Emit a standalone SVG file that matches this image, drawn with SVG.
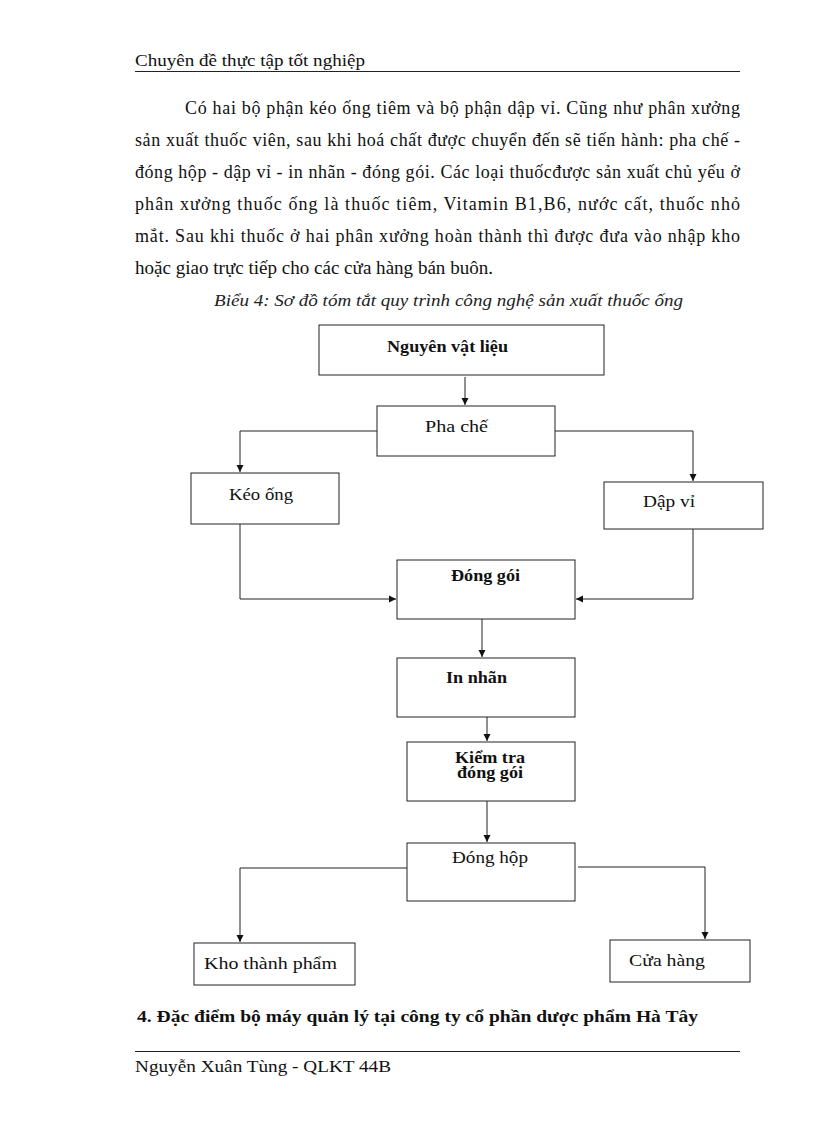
<svg xmlns="http://www.w3.org/2000/svg" width="816" height="1123" viewBox="0 0 816 1123">
<defs>
<marker id="arr" markerUnits="userSpaceOnUse" markerWidth="8" markerHeight="8" refX="7" refY="4" orient="auto">
<path d="M0,0.5 L7,4 L0,7.5 z" fill="#111"/>
</marker>
<style>
.pg{font-family:"Liberation Serif","Times New Roman",serif;font-size:18px;fill:#111}
.hd{font-family:"Liberation Serif","Times New Roman",serif;font-size:17.5px;fill:#111}
.cap{font-family:"Liberation Serif","Times New Roman",serif;font-size:16px;font-style:italic;fill:#222}
.bx{fill:#fff;stroke:#222;stroke-width:1}
.lb{font-family:"Liberation Serif","Times New Roman",serif;font-size:16px;fill:#111}
.bd{font-weight:bold}
.cn{fill:none;stroke:#222;stroke-width:1}
.rule{stroke:#222;stroke-width:1}
</style>
</defs>
<rect width="816" height="1123" fill="#fff"/>

<g id="header">
<text class="hd" x="135" y="66" textLength="230" lengthAdjust="spacingAndGlyphs">Chuyên đề thực tập tốt nghiệp</text>
<line class="rule" x1="135" y1="71.5" x2="740" y2="71.5"/>
</g>

<g id="paragraph">
<text class="pg" x="185" y="114" textLength="555" lengthAdjust="spacing">Có hai bộ phận kéo ống tiêm và bộ phận dập vỉ. Cũng như phân xưởng</text>
<text class="pg" x="135" y="146" textLength="605" lengthAdjust="spacing">sản xuất thuốc viên, sau khi hoá chất được chuyển đến sẽ tiến hành: pha chế -</text>
<text class="pg" x="135" y="178" textLength="605" lengthAdjust="spacing">đóng hộp - dập vỉ - in nhãn - đóng gói. Các loại thuốcđược sản xuất chủ yếu ở</text>
<text class="pg" x="135" y="210" textLength="605" lengthAdjust="spacing">phân xưởng thuốc ống là thuốc tiêm, Vitamin  B1,B6, nước cất, thuốc nhỏ</text>
<text class="pg" x="135" y="242" textLength="605" lengthAdjust="spacing">mắt. Sau khi thuốc ở hai phân xưởng hoàn thành thì được đưa vào nhập kho</text>
<text class="pg" x="135" y="274" textLength="358" lengthAdjust="spacingAndGlyphs">hoặc giao trực tiếp cho các cửa hàng bán buôn.</text>
<text class="cap" x="214" y="306" textLength="469" lengthAdjust="spacingAndGlyphs">Biểu 4: Sơ đồ tóm tắt quy trình công nghệ sản xuất thuốc ống</text>
</g>

<g id="connectors">
<path class="cn" d="M465,377 V405" marker-end="url(#arr)"/>
<path class="cn" d="M377,431 H240 V472" marker-end="url(#arr)"/>
<path class="cn" d="M555,431 H693 V481" marker-end="url(#arr)"/>
<path class="cn" d="M240,524 V599 H396" marker-end="url(#arr)"/>
<path class="cn" d="M693,529 V599 H576" marker-end="url(#arr)"/>
<path class="cn" d="M482,619 V657" marker-end="url(#arr)"/>
<path class="cn" d="M487,717 V741" marker-end="url(#arr)"/>
<path class="cn" d="M487,801 V842" marker-end="url(#arr)"/>
<path class="cn" d="M407,868 H240 V942" marker-end="url(#arr)"/>
<path class="cn" d="M578,867 H705 V939" marker-end="url(#arr)"/>
</g>

<g id="n-nguyen-vat-lieu">
<rect class="bx" x="319" y="325" width="285" height="50"/>
<text class="lb bd" x="387" y="352" textLength="121" lengthAdjust="spacingAndGlyphs">Nguyên vật liệu</text>
</g>
<g id="n-pha-che">
<rect class="bx" x="377" y="406" width="178" height="50"/>
<text class="lb" x="425" y="432" textLength="63" lengthAdjust="spacingAndGlyphs">Pha chế</text>
</g>
<g id="n-keo-ong">
<rect class="bx" x="191" y="473" width="148" height="51"/>
<text class="lb" x="229" y="500" textLength="64" lengthAdjust="spacingAndGlyphs">Kéo ống</text>
</g>
<g id="n-dap-vi">
<rect class="bx" x="604" y="482" width="159" height="47"/>
<text class="lb" x="643" y="507" textLength="52" lengthAdjust="spacingAndGlyphs">Dập vỉ</text>
</g>
<g id="n-dong-goi">
<rect class="bx" x="397" y="560" width="178" height="59"/>
<text class="lb bd" x="451" y="581" textLength="69" lengthAdjust="spacingAndGlyphs">Đóng gói</text>
</g>
<g id="n-in-nhan">
<rect class="bx" x="397" y="658" width="178" height="59"/>
<text class="lb bd" x="446" y="683" textLength="61" lengthAdjust="spacingAndGlyphs">In nhãn</text>
</g>
<g id="n-kiem-tra">
<rect class="bx" x="407" y="742" width="168" height="59"/>
<text class="lb bd" x="455" y="763" textLength="70" lengthAdjust="spacingAndGlyphs">Kiểm tra</text>
<text class="lb bd" x="457" y="778" textLength="66" lengthAdjust="spacingAndGlyphs">đóng gói</text>
</g>
<g id="n-dong-hop">
<rect class="bx" x="407" y="843" width="168" height="58"/>
<text class="lb" x="452" y="863" textLength="76" lengthAdjust="spacingAndGlyphs">Đóng hộp</text>
</g>
<g id="n-kho-thanh-pham">
<rect class="bx" x="194" y="943" width="161" height="42"/>
<text class="lb" x="204" y="969" textLength="133" lengthAdjust="spacingAndGlyphs">Kho thành phẩm</text>
</g>
<g id="n-cua-hang">
<rect class="bx" x="610" y="940" width="140" height="42"/>
<text class="lb" x="629" y="966" textLength="76" lengthAdjust="spacingAndGlyphs">Cửa hàng</text>
</g>

<g id="footer">
<text class="hd bd" x="137" y="1022" textLength="561" lengthAdjust="spacingAndGlyphs">4. Đặc điểm bộ máy quản lý tại công ty cổ phần dược phẩm Hà Tây</text>
<line class="rule" x1="135" y1="1051.5" x2="740" y2="1051.5"/>
<text class="hd" x="135" y="1072" textLength="256" lengthAdjust="spacingAndGlyphs">Nguyễn Xuân Tùng - QLKT 44B</text>
</g>
</svg>
